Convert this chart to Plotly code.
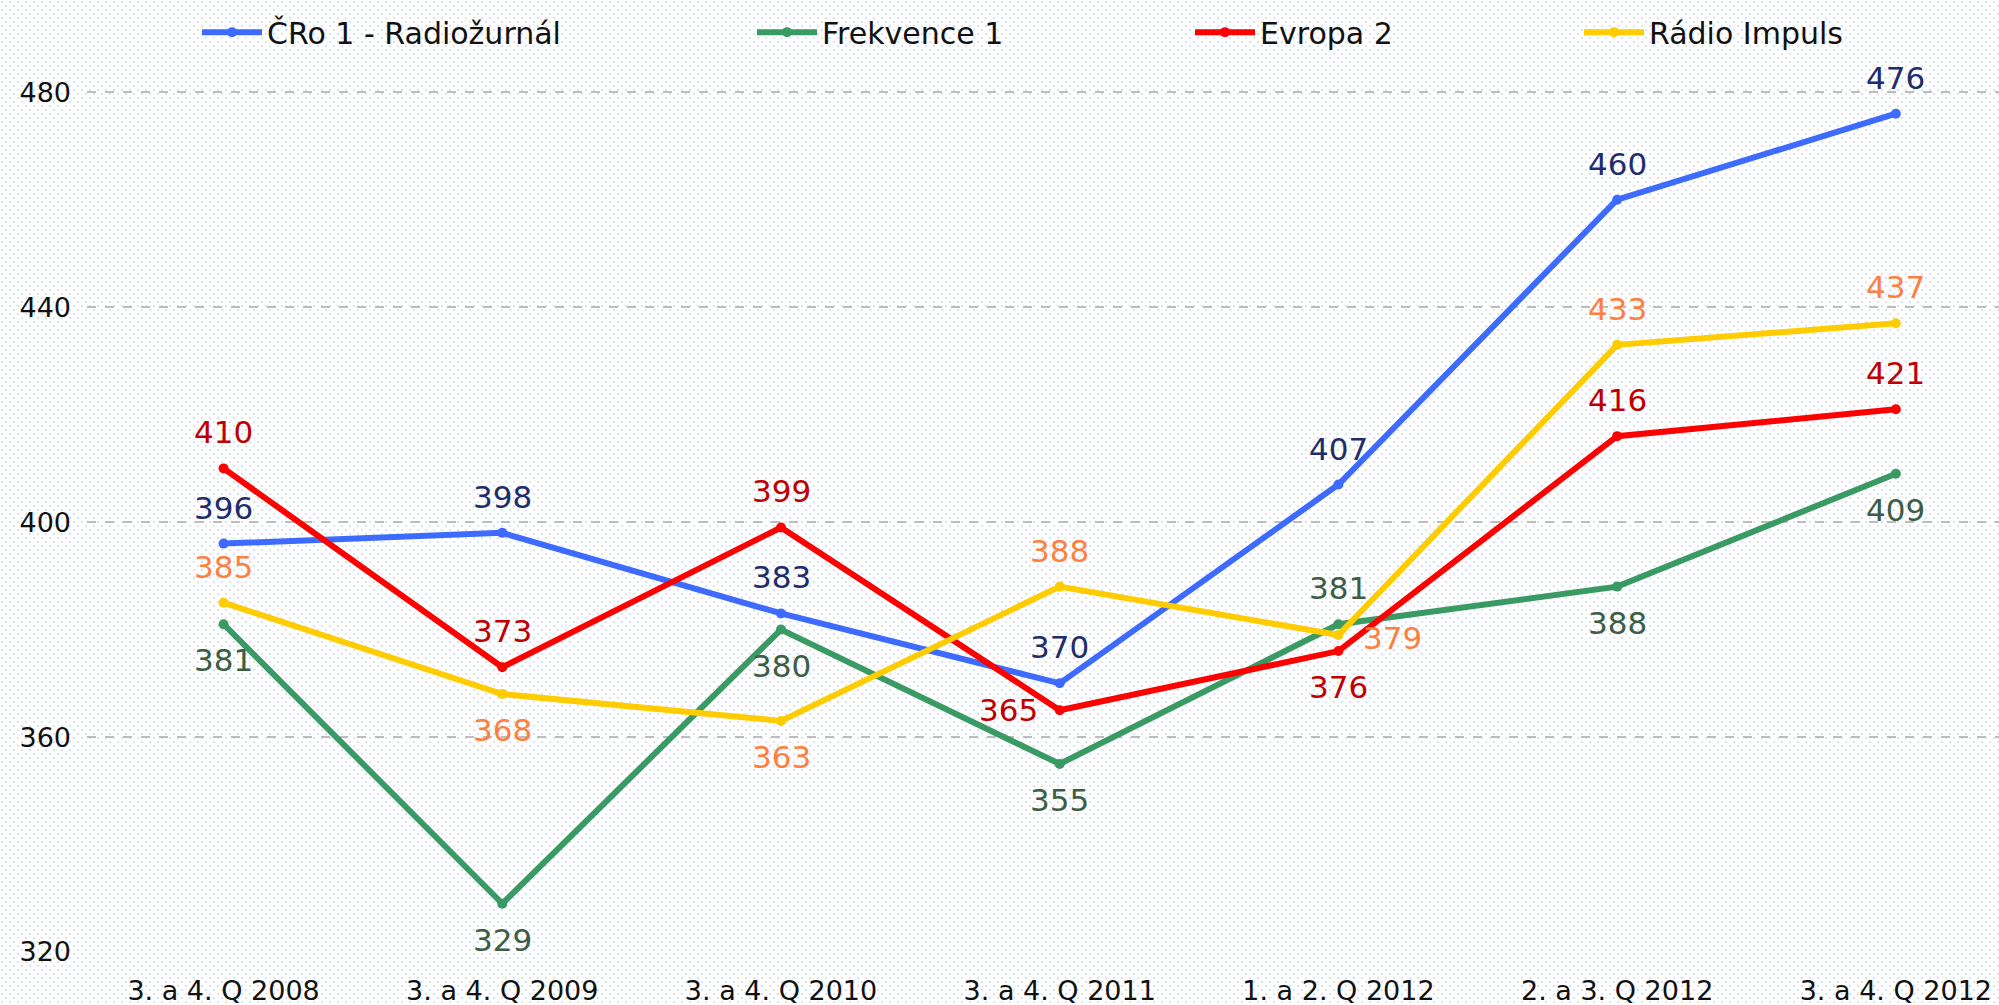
import base64
import plotly.graph_objects as go

categories = ["3. a 4. Q 2008", "3. a 4. Q 2009", "3. a 4. Q 2010", "3. a 4. Q 2011",
              "1. a 2. Q 2012", "2. a 3. Q 2012", "3. a 4. Q 2012"]
series_names = ["ČRo 1 - Radiožurnál", "Frekvence 1", "Evropa 2", "Rádio Impuls"]
cro = [396, 398, 383, 370, 407, 460, 476]
frekvence = [381, 329, 380, 355, 381, 388, 409]
evropa = [410, 373, 399, 365, 376, 416, 421]
impuls = [385, 368, 363, 388, 379, 433, 437]
y_ticks = [320, 360, 400, 440, 480]

line_colors = ["#3d6bff", "#3a9a64", "#ff0000", "#ffcc00"]
label_colors = ["#1f2d6b", "#3b5e44", "#c00000", "#ff7f40"]
positions = [
    ["top"] * 7,
    ["bottom"] * 4 + ["top"] + ["bottom"] * 2,
    ["top", "top", "top", "left", "bottom", "top", "top"],
    ["top", "bottom", "bottom", "top", "right", "top", "top"],
]
shifts = {"top": (0, 36), "bottom": (0, -36), "left": (-51, 0), "right": (54, -3)}
legend_x_px = [197, 752, 1190, 1579]

W, H = 1999, 1005
ML, MR, MT, MB = 87, 0, 60, 53

# dotted background pattern
svg = (f'<svg xmlns="http://www.w3.org/2000/svg" width="{W}" height="{H}">'
       '<defs><pattern id="p" width="8" height="8" patternUnits="userSpaceOnUse">'
       '<circle cx="2" cy="2" r="1.1" fill="#d0ddf2"/>'
       '<circle cx="6" cy="6" r="1.1" fill="#d0ddf2"/></pattern></defs>'
       '<rect width="100%" height="100%" fill="#ffffff"/>'
       '<rect width="100%" height="100%" fill="url(#p)"/></svg>')
bg_uri = "data:image/svg+xml;base64," + base64.b64encode(svg.encode()).decode()

x = list(range(len(categories)))
fig = go.Figure()
annotations = []
for i, (name, vals, lc, tc, pos) in enumerate(zip(series_names, [cro, frekvence, evropa, impuls],
                                                  line_colors, label_colors, positions)):
    lg = "legend" if i == 0 else f"legend{i + 1}"
    fig.add_trace(go.Scatter(
        x=x, y=vals, name=name, mode="lines+markers",
        line=dict(color=lc, width=6),
        marker=dict(color=lc, size=10),
        legend=lg, cliponaxis=False,
    ))
    for xi, v, p in zip(x, vals, pos):
        dx, dy = shifts[p]
        annotations.append(dict(
            x=xi, y=v, xref="x", yref="y", text=str(v), showarrow=False,
            xshift=dx, yshift=dy,
            font=dict(color=tc, size=31, family="DejaVu Sans"),
        ))

legend_common = dict(orientation="h", xref="container", yref="container",
                     y=0.968, yanchor="middle", xanchor="left",
                     font=dict(size=30, family="DejaVu Sans", color="#111111"),
                     bgcolor="rgba(0,0,0,0)", itemwidth=60)
legends = {}
for i, px in enumerate(legend_x_px):
    key = "legend" if i == 0 else f"legend{i + 1}"
    legends[key] = dict(legend_common, x=px / W)

fig.update_layout(
    width=W, height=H,
    paper_bgcolor="#ffffff", plot_bgcolor="rgba(0,0,0,0)",
    margin=dict(l=ML, r=MR, t=MT, b=MB, autoexpand=False),
    font=dict(family="DejaVu Sans", color="#111111"),
    showlegend=True,
    annotations=annotations,
    images=[dict(source=bg_uri, xref="paper", yref="paper",
                 x=-ML / (W - ML - MR), y=1 + MT / (H - MT - MB),
                 sizex=W / (W - ML - MR), sizey=H / (H - MT - MB),
                 xanchor="left", yanchor="top", sizing="stretch", layer="below")],
    xaxis=dict(range=[-0.49, 6.37], tickmode="array", tickvals=x, ticktext=categories,
               showgrid=False, zeroline=False, showline=False, automargin=False,
               tickfont=dict(size=27, family="DejaVu Sans", color="#111111"),
               ticklabelstandoff=20),
    yaxis=dict(range=[320, 486], tickvals=y_ticks, showgrid=True,
               gridcolor="#bdbdbd", griddash="dash", gridwidth=1.5,
               zeroline=False, showline=False, automargin=False,
               tickfont=dict(size=27, family="DejaVu Sans", color="#111111"),
               ticklabelstandoff=15),
    **legends,
)
fig.write_html("out.html", config={"displayModeBar": False},
               post_script="document.body.style.margin='0px';")
